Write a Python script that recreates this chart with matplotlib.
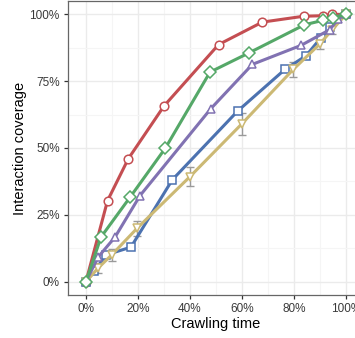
import numpy as np
import matplotlib.pyplot as plt
from matplotlib.ticker import PercentFormatter, MultipleLocator

# crawl-time fraction vs. fraction of interactions covered, per strategy
red_x = [0, 0.083, 0.163, 0.30, 0.51, 0.678, 0.837, 0.913, 0.947, 1.0]
red_y = [0, 0.303, 0.46, 0.657, 0.887, 0.971, 0.993, 0.995, 1.0, 1.0]

green_x = [0, 0.058, 0.169, 0.305, 0.477, 0.627, 0.84, 0.913, 0.949, 1.0]
green_y = [0, 0.167, 0.315, 0.499, 0.784, 0.856, 0.961, 0.978, 0.988, 1.0]

purple_x = [0, 0.047, 0.112, 0.208, 0.48, 0.64, 0.827, 0.938, 0.97, 1.0]
purple_y = [0, 0.092, 0.167, 0.322, 0.647, 0.813, 0.884, 0.943, 0.984, 1.0]

blue_x = [0, 0.032, 0.077, 0.173, 0.332, 0.583, 0.765, 0.846, 0.903, 0.94, 1.0]
blue_y = [0, 0.038, 0.10, 0.129, 0.381, 0.638, 0.794, 0.845, 0.912, 0.952, 1.0]

# random baseline, mean and spread over repeated runs
rand_x = [0, 0.047, 0.099, 0.197, 0.40, 0.599, 0.797, 0.90, 0.947, 1.0]
rand_y = [0, 0.051, 0.10, 0.20, 0.393, 0.59, 0.794, 0.89, 0.943, 1.0]
rand_err = [0, 0.02, 0.022, 0.028, 0.037, 0.042, 0.029, 0.02, 0.015, 0]

plt.rcParams['font.family'] = ['Liberation Sans', 'DejaVu Sans']

fig = plt.figure(figsize=(3.55, 3.38), dpi=100)
ax = fig.add_axes([68 / 355, 43 / 338, 296 / 355, 294 / 338])

lw = 2.2
ms = 6.2


def draw(x, y, color, marker, z):
    ax.plot(x, y, color=color, lw=lw, marker=marker, ms=ms,
            mfc='white', mec=color, mew=1.1, zorder=z)


ax.errorbar(rand_x, rand_y, yerr=rand_err, fmt='none', ecolor='#9a9a9a',
            elinewidth=1.0, capsize=2.6, capthick=1.0, zorder=3)
draw(red_x, red_y, '#C44E52', 'o', 4)
draw(blue_x, blue_y, '#4C72B0', 's', 5)
draw(rand_x, rand_y, '#CCB974', 'v', 6)
draw(purple_x, purple_y, '#8172B2', '^', 7)
draw(green_x, green_y, '#55A868', 'D', 8)

ax.set_xlim(-0.069, 1.069)
ax.set_ylim(-0.05, 1.05)
ax.xaxis.set_major_locator(MultipleLocator(0.2))
ax.xaxis.set_minor_locator(MultipleLocator(0.1))
ax.yaxis.set_major_locator(MultipleLocator(0.25))
ax.yaxis.set_minor_locator(MultipleLocator(0.125))
ax.xaxis.set_major_formatter(PercentFormatter(1.0, decimals=0))
ax.yaxis.set_major_formatter(PercentFormatter(1.0, decimals=0))

ax.grid(which='major', color='#ebebeb', lw=1.0)
ax.grid(which='minor', color='#f5f5f5', lw=0.8)
ax.set_axisbelow(True)

for side in ax.spines.values():
    side.set_color('#666666')
    side.set_linewidth(0.9)
ax.tick_params(which='major', length=3, width=0.9, color='#333333',
               labelsize=8.5, labelcolor='#3a3a3a', pad=3)
ax.tick_params(which='minor', length=0)

ax.set_xlabel('Crawling time', fontsize=10.5, labelpad=1)
ax.set_ylabel('Interaction coverage', fontsize=10.5, labelpad=2)

fig.savefig('out.png', dpi=100)
